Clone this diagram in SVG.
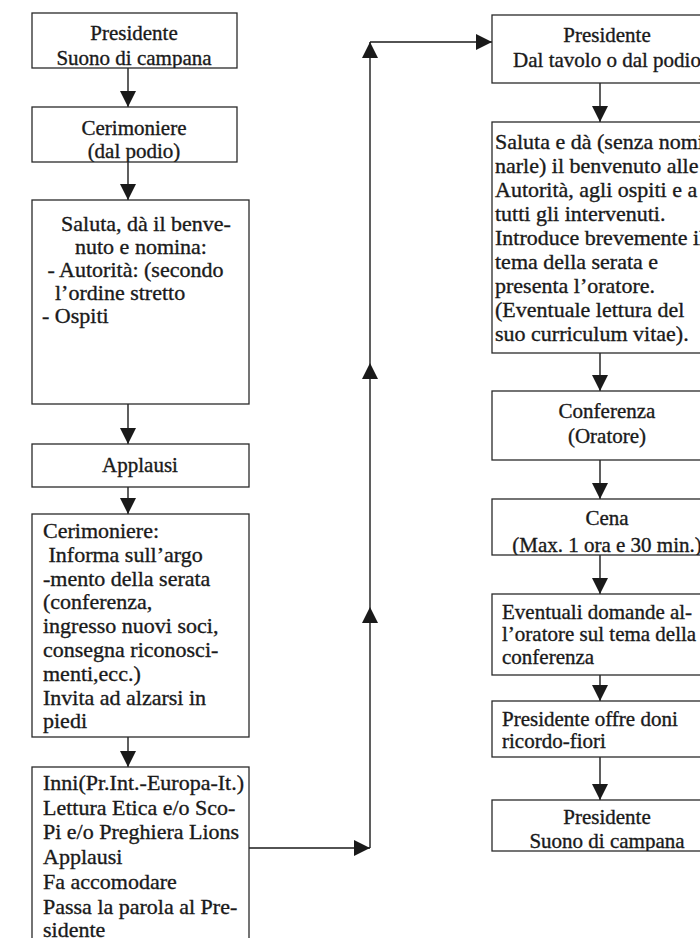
<svg xmlns="http://www.w3.org/2000/svg" width="700" height="938" viewBox="0 0 700 938">
<defs>
<marker id="ah" viewBox="0 0 16 16" refX="16" refY="8" markerWidth="16" markerHeight="16" markerUnits="userSpaceOnUse" orient="auto">
<path d="M0,0 L16,8 L0,16 Z" fill="#1a1a1a"/>
</marker>
<clipPath id="c1"><rect x="32" y="13" width="205" height="55"/></clipPath>
<clipPath id="c2"><rect x="32" y="107" width="205" height="55"/></clipPath>
<clipPath id="c4"><rect x="492" y="499" width="230" height="56"/></clipPath>
<clipPath id="c7"><rect x="492" y="800" width="230" height="51"/></clipPath>
<style>
.box{fill:#fff;stroke:#2a2a2a;stroke-width:1.3}
.t{font-family:"Liberation Serif","Times New Roman",serif;font-size:21px;fill:#1a1a1a;stroke:#1a1a1a;stroke-width:0.35}
.b{font-size:22px}
.c{text-anchor:middle}
.ln{fill:none;stroke:#1a1a1a;stroke-width:1.4}
</style>
</defs>
<rect width="700" height="938" fill="#fff"/>

<g id="connectors">
<line class="ln" x1="128" y1="68" x2="128" y2="107" marker-end="url(#ah)"/>
<line class="ln" x1="128" y1="162" x2="128" y2="200" marker-end="url(#ah)"/>
<line class="ln" x1="128" y1="404" x2="128" y2="444" marker-end="url(#ah)"/>
<line class="ln" x1="128" y1="487" x2="128" y2="514" marker-end="url(#ah)"/>
<line class="ln" x1="128" y1="737" x2="128" y2="767" marker-end="url(#ah)"/>
<line class="ln" x1="249" y1="848" x2="370" y2="848" marker-end="url(#ah)"/>
<line class="ln" x1="370" y1="848" x2="370" y2="607" marker-end="url(#ah)"/>
<line class="ln" x1="370" y1="607" x2="370" y2="363" marker-end="url(#ah)"/>
<line class="ln" x1="370" y1="363" x2="370" y2="42" marker-end="url(#ah)"/>
<line class="ln" x1="370" y1="42" x2="492" y2="42" marker-end="url(#ah)"/>
<line class="ln" x1="600" y1="83" x2="600" y2="122" marker-end="url(#ah)"/>
<line class="ln" x1="600" y1="353" x2="600" y2="391" marker-end="url(#ah)"/>
<line class="ln" x1="600" y1="460" x2="600" y2="499" marker-end="url(#ah)"/>
<line class="ln" x1="600" y1="555" x2="600" y2="594" marker-end="url(#ah)"/>
<line class="ln" x1="600" y1="675" x2="600" y2="701" marker-end="url(#ah)"/>
<line class="ln" x1="600" y1="757" x2="600" y2="800" marker-end="url(#ah)"/>
</g>

<g id="l1">
<rect class="box" x="32" y="13" width="205" height="55"/>
<g clip-path="url(#c1)">
<text class="t c" x="134" y="40">Presidente</text>
<text class="t c" x="134" y="65">Suono di campana</text>
</g>
</g>
<g id="l2">
<rect class="box" x="32" y="107" width="205" height="55"/>
<g clip-path="url(#c2)">
<text class="t c" x="134" y="135">Cerimoniere</text>
<text class="t c" x="134" y="158">(dal podio)</text>
</g>
</g>
<g id="l3">
<rect class="box" x="32" y="200" width="217" height="204"/>
<text class="t b c" x="146" y="231">Saluta, dà il benve-</text>
<text class="t b c" x="141" y="254">nuto e nomina:</text>
<text class="t b" x="42" y="277" xml:space="preserve"> - Autorità: (secondo</text>
<text class="t b" x="55" y="300">l’ordine stretto</text>
<text class="t b" x="42" y="323">- Ospiti</text>
</g>
<g id="l4">
<rect class="box" x="32" y="444" width="217" height="43"/>
<text class="t c" x="140" y="472">Applausi</text>
</g>
<g id="l5">
<rect class="box" x="32" y="514" width="217" height="223"/>
<text class="t b" x="43" y="538">Cerimoniere:</text>
<text class="t b" x="43" y="562" xml:space="preserve"> Informa sull’argo</text>
<text class="t b" x="43" y="586">-mento della serata</text>
<text class="t b" x="43" y="609">(conferenza,</text>
<text class="t b" x="43" y="633">ingresso nuovi soci,</text>
<text class="t b" x="43" y="657">consegna riconosci-</text>
<text class="t b" x="43" y="681">menti,ecc.)</text>
<text class="t b" x="43" y="705">Invita ad alzarsi in</text>
<text class="t b" x="43" y="728">piedi</text>
</g>
<g id="l6">
<rect class="box" x="32" y="767" width="217" height="190"/>
<text class="t b" x="43" y="790">Inni(Pr.Int.-Europa-It.)</text>
<text class="t b" x="43" y="815">Lettura Etica e/o Sco-</text>
<text class="t b" x="43" y="839">Pi e/o Preghiera Lions</text>
<text class="t b" x="43" y="864">Applausi</text>
<text class="t b" x="43" y="889">Fa accomodare</text>
<text class="t b" x="43" y="914">Passa la parola al Pre-</text>
<text class="t b" x="43" y="937">sidente</text>
</g>

<g id="r1">
<rect class="box" x="492" y="15" width="230" height="68"/>
<text class="t c" x="607" y="42">Presidente</text>
<text class="t c" x="607" y="67">Dal tavolo o dal podio</text>
</g>
<g id="r2">
<rect class="box" x="492" y="122" width="230" height="231"/>
<text class="t b" x="495" y="149">Saluta e dà (senza nomi</text>
<text class="t b" x="495" y="173">narle) il benvenuto alle</text>
<text class="t b" x="495" y="197">Autorità, agli ospiti e a</text>
<text class="t b" x="495" y="221">tutti gli intervenuti.</text>
<text class="t b" x="495" y="245">Introduce brevemente il</text>
<text class="t b" x="495" y="269">tema della serata e</text>
<text class="t b" x="495" y="293">presenta l’oratore.</text>
<text class="t b" x="495" y="317">(Eventuale lettura del</text>
<text class="t b" x="495" y="341">suo curriculum vitae).</text>
</g>
<g id="r3">
<rect class="box" x="492" y="391" width="230" height="69"/>
<text class="t c" x="607" y="418">Conferenza</text>
<text class="t c" x="607" y="443">(Oratore)</text>
</g>
<g id="r4">
<rect class="box" x="492" y="499" width="230" height="56"/>
<g clip-path="url(#c4)">
<text class="t c" x="607" y="525">Cena</text>
<text class="t c" x="607" y="552">(Max. 1 ora e 30 min.)</text>
</g>
</g>
<g id="r5">
<rect class="box" x="492" y="594" width="230" height="81"/>
<text class="t" x="502" y="619">Eventuali domande al-</text>
<text class="t" x="502" y="641">l’oratore sul tema della</text>
<text class="t" x="502" y="664">conferenza</text>
</g>
<g id="r6">
<rect class="box" x="492" y="701" width="230" height="56"/>
<text class="t" x="502" y="726">Presidente offre doni</text>
<text class="t" x="502" y="748">ricordo-fiori</text>
</g>
<g id="r7">
<rect class="box" x="492" y="800" width="230" height="51"/>
<g clip-path="url(#c7)">
<text class="t c" x="607" y="824">Presidente</text>
<text class="t c" x="607" y="848">Suono di campana</text>
</g>
</g>
</svg>
